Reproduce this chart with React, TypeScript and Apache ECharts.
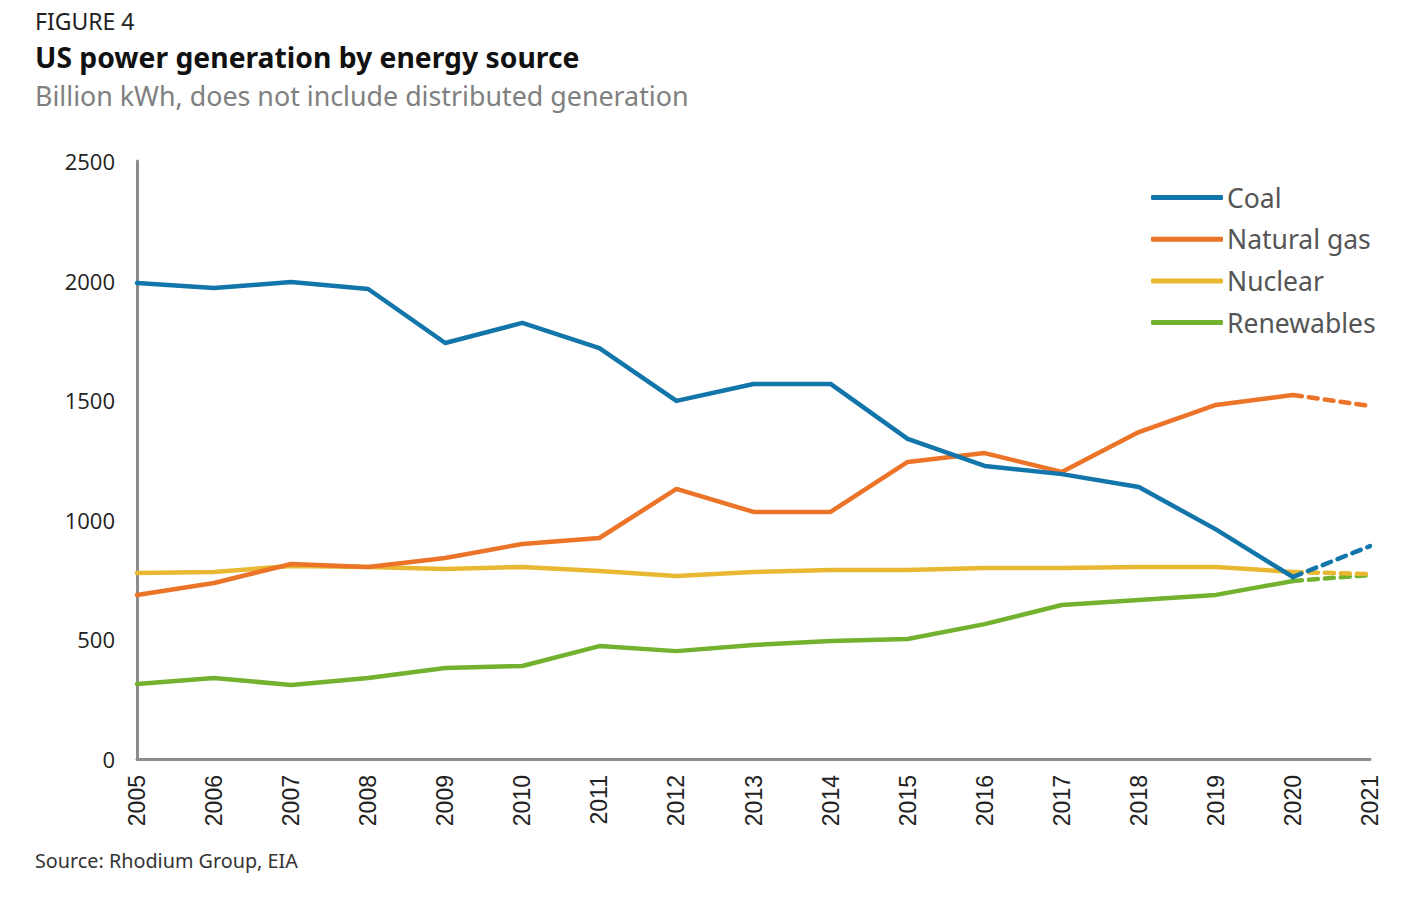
import React, { useEffect, useRef } from "react";
import * as echarts from "echarts";

const years = ["2005","2006","2007","2008","2009","2010","2011","2012","2013","2014","2015","2016","2017","2018","2019","2020","2021"];
const coal = [1990, 1969, 1994, 1965, 1739, 1823, 1718, 1497, 1568, 1568, 1338, 1225, 1191, 1137, 960, 761, 890];
const naturalGas = [686, 736, 815, 803, 840, 899, 924, 1129, 1033, 1033, 1242, 1279, 1200, 1367, 1480, 1522, 1476];
const nuclear = [778, 782, 807, 803, 794, 803, 786, 765, 782, 790, 790, 798, 798, 803, 803, 782, 773];
const renewables = [314, 339, 309, 339, 380, 389, 472, 451, 477, 493, 502, 564, 644, 665, 686, 744, 769];
const names = ["Coal", "Natural gas", "Nuclear", "Renewables"];
const colors = ["#1276ab", "#ec7429", "#e8b833", "#73b22f"];
const yTicks = { min: 0, max: 2500, interval: 500 };
const projStart = 15; // index of 2020, last actual year

const FONT = "'Noto Sans', sans-serif";

export default function App() {
  const ref = useRef<HTMLDivElement>(null);
  useEffect(() => {
    document.body.style.margin = "0";
    if (!ref.current) return;
    const chart = echarts.init(ref.current, undefined, { renderer: "svg" });
    const all = [coal, naturalGas, nuclear, renewables];
    const series: any[] = [];
    all.forEach((arr, i) => {
      series.push({
        name: names[i],
        type: "line",
        data: arr.map((v, j) => (j <= projStart ? v : null)),
        symbol: "none",
        lineStyle: { color: colors[i], width: 4.5, cap: "round", join: "round" },
        itemStyle: { color: colors[i] },
        z: 10 - i,
      });
      series.push({
        name: names[i] + " (projected)",
        type: "line",
        data: arr.map((v, j) => (j >= projStart ? v : null)),
        symbol: "none",
        lineStyle: { color: colors[i], width: 4.5, type: [9, 7], cap: "round" },
        itemStyle: { color: colors[i] },
        z: 10 - i,
      });
    });
    chart.setOption({
      animation: false,
      backgroundColor: "#ffffff",
      grid: { left: 137, right: 36, top: 161, bottom: 139, containLabel: false },
      legend: {
        data: names,
        orient: "vertical",
        left: 1146,
        top: 179,
        icon: "roundRect",
        itemWidth: 72,
        itemHeight: 5,
        itemGap: 14.7,
        textStyle: { fontFamily: FONT, fontSize: 26.5, color: "#555555", padding: [0, 0, 0, -1] },
      },
      xAxis: {
        type: "category",
        data: years,
        boundaryGap: false,
        axisLine: { show: true, lineStyle: { color: "#8c8c8c", width: 3 } },
        axisTick: { show: false },
        axisLabel: { rotate: 90, fontSize: 23, fontFamily: "'Liberation Sans', sans-serif", color: "#222", margin: 16 },
        splitLine: { show: false },
      },
      yAxis: {
        type: "value",
        min: yTicks.min,
        max: yTicks.max,
        interval: yTicks.interval,
        axisLine: { show: true, lineStyle: { color: "#8c8c8c", width: 3 } },
        axisTick: { show: false },
        axisLabel: { fontSize: 22, fontFamily: "'Open Sans', sans-serif", color: "#222", margin: 22, formatter: (v: number) => String(v) },
        splitLine: { show: false },
      },
      graphic: [
        { type: "text", left: 35, top: 9, style: { text: "FIGURE 4", fontFamily: FONT, fontSize: 23, fill: "#222" } },
        { type: "text", left: 35, top: 43, style: { text: "US power generation by energy source", fontFamily: FONT, fontSize: 28.3, fontWeight: "bold", fill: "#111" } },
        { type: "text", left: 35, top: 82, style: { text: "Billion kWh, does not include distributed generation", fontFamily: FONT, fontSize: 26.8, fill: "#808080" } },
        { type: "text", left: 35, top: 850, style: { text: "Source: Rhodium Group, EIA", fontFamily: FONT, fontSize: 19.8, fill: "#333" } },
      ],
      series,
    });
    return () => chart.dispose();
  }, []);
  return <div ref={ref} style={{ width: 1406, height: 898 }} />;
}
